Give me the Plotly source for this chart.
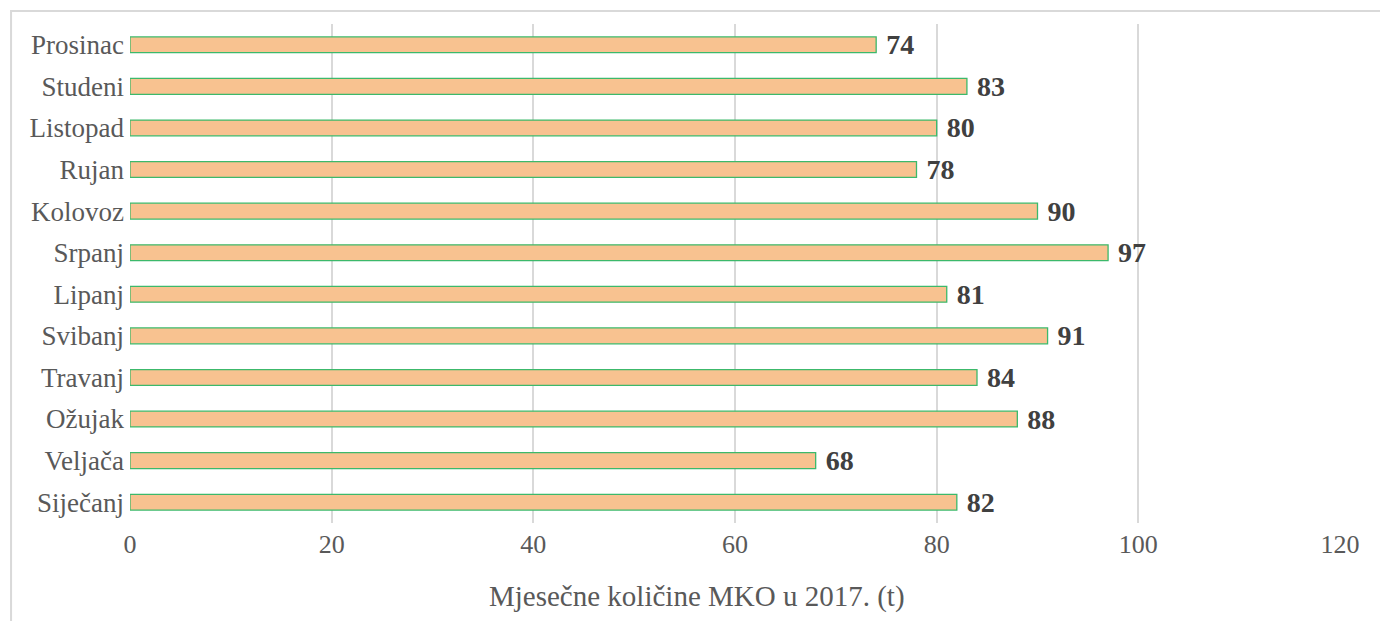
import plotly.graph_objects as go

months = ["Siječanj", "Veljača", "Ožujak", "Travanj", "Svibanj", "Lipanj",
          "Srpanj", "Kolovoz", "Rujan", "Listopad", "Studeni", "Prosinac"]
amounts = [82, 68, 88, 84, 91, 81, 97, 90, 78, 80, 83, 74]
x_ticks = [0, 20, 40, 60, 80, 100, 120]

fig = go.Figure()
fig.add_trace(go.Bar(
    y=months,
    x=amounts,
    orientation="h",
    width=0.38,
    marker=dict(color="#F8C290", line=dict(color="#3cb96b", width=1.3)),
    text=[" " + str(v) for v in amounts],
    textposition="outside",
    constraintext="none",
    textfont=dict(family="Liberation Serif", size=28, color="#404040", weight="bold"),
    cliponaxis=False,
))

# page body has an 8px margin, so the figure is a bit smaller than the window
fig.update_layout(
    width=1372, height=613,
    margin=dict(l=122, r=40, t=16, b=98),
    plot_bgcolor="white",
    paper_bgcolor="white",
    showlegend=False,
    font=dict(family="Liberation Serif", color="#595959"),
)
fig.update_xaxes(
    range=[0, 120],
    tickvals=x_ticks,
    automargin=False,
    showgrid=True, gridcolor="#d9d9d9", gridwidth=1.5,
    zeroline=False,
    tickfont=dict(size=26, color="#595959"),
    ticks="", ticklabelstandoff=3,
)
fig.update_yaxes(
    automargin=False,
    tickfont=dict(size=27, color="#595959"),
    ticks="", ticklabelstandoff=5,
    showline=False,
)
# axis title sits a little left of the plot centre in the original
fig.add_annotation(text="Mjesečne količine MKO u 2017. (t)",
                   xref="paper", yref="paper", x=0.4686, y=-0.148,
                   xanchor="center", yanchor="middle", showarrow=False,
                   font=dict(size=29, color="#595959"))
# outer chart border
fig.add_shape(type="rect", xref="paper", yref="paper",
              x0=-0.0983, y0=-0.5, x1=1.2, y1=1.026,
              line=dict(color="#d9d9d9", width=2), layer="below")

fig.write_html("out.html")
